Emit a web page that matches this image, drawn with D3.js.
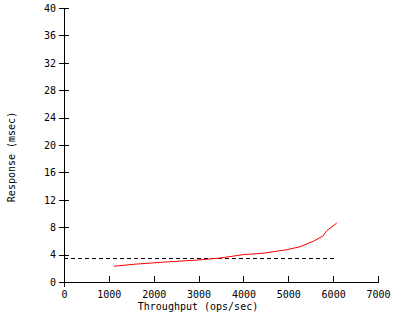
<!DOCTYPE html>
<html>
<head>
<meta charset="utf-8">
<script src="https://cdn.jsdelivr.net/npm/d3@7"></script>
<style>
  body { margin: 0; background: #fff; }
  svg text { font-family: "DejaVu Sans Mono", monospace; font-size: 10px; fill: #000; }
</style>
</head>
<body>
<div id="chart"></div>
<script>
// throughput (ops/sec) vs response (msec)
const throughput = [1115, 1580, 2210, 2960, 3480, 4000, 4440, 4960, 5260, 5560, 5770, 5860, 6080];
const response = [2.3, 2.6, 2.9, 3.2, 3.5, 4.0, 4.2, 4.7, 5.15, 5.95, 6.7, 7.5, 8.6];
const refLevel = 3.5;
const refRange = [0, 6080];
const xTicks = [0, 1000, 2000, 3000, 4000, 5000, 6000, 7000];
const yTicks = [0, 4, 8, 12, 16, 20, 24, 28, 32, 36, 40];

const width = 400, height = 320;
const margin = { top: 8, right: 22, bottom: 38, left: 64 };

const svg = d3.select('#chart')
  .append('svg')
  .attr('width', width)
  .attr('height', height);

const x = d3.scaleLinear()
  .domain([0, 7000])
  .range([margin.left, width - margin.right]);

const y = d3.scaleLinear()
  .domain([0, 40])
  .range([height - margin.bottom, margin.top]);

const xAxis = d3.axisBottom(x).tickValues(xTicks).tickFormat(d3.format('d'))
  .tickSize(0).tickPadding(9).tickSizeOuter(0);
const yAxis = d3.axisLeft(y).tickValues(yTicks).tickFormat(d3.format('d'))
  .tickSize(0).tickPadding(8).tickSizeOuter(0);

const gx = svg.append('g')
  .attr('transform', `translate(0,${y(0)})`)
  .call(xAxis);
gx.select('.domain').attr('stroke', '#000').attr('shape-rendering', 'crispEdges');
gx.selectAll('.tick text').attr('font-family', null).attr('font-size', null);
// ticks point up into the plot
gx.selectAll('.tick').append('line')
  .attr('y1', -6).attr('y2', 1)
  .attr('stroke', '#000').attr('shape-rendering', 'crispEdges');

const gy = svg.append('g')
  .attr('transform', `translate(${x(0)},0)`)
  .call(yAxis);
gy.select('.domain').attr('stroke', '#000').attr('shape-rendering', 'crispEdges');
gy.selectAll('.tick text').attr('font-family', null).attr('font-size', null);
// ticks cross the axis
gy.selectAll('.tick').append('line')
  .attr('x1', -5).attr('x2', 5)
  .attr('stroke', '#000').attr('shape-rendering', 'crispEdges');

// y axis runs a little below zero
svg.append('line')
  .attr('x1', x(0)).attr('x2', x(0))
  .attr('y1', y(0)).attr('y2', y(0) + 5)
  .attr('stroke', '#000').attr('shape-rendering', 'crispEdges');

// reference dashed line
svg.append('line')
  .attr('x1', x(refRange[0])).attr('x2', x(refRange[1]))
  .attr('y1', y(refLevel)).attr('y2', y(refLevel))
  .attr('stroke', '#000')
  .attr('stroke-dasharray', '4 3')
  .attr('shape-rendering', 'crispEdges');

const line = d3.line()
  .x((d, i) => x(throughput[i]))
  .y(d => y(d));

svg.append('path')
  .datum(response)
  .attr('fill', 'none')
  .attr('stroke', '#f00')
  .attr('stroke-width', 1)
  .attr('d', line);

svg.append('text')
  .attr('x', 198)
  .attr('y', 310)
  .attr('text-anchor', 'middle')
  .text('Throughput (ops/sec)');

svg.append('text')
  .attr('transform', 'translate(15,157) rotate(-90)')
  .attr('text-anchor', 'middle')
  .text('Response (msec)');
</script>
</body>
</html>
